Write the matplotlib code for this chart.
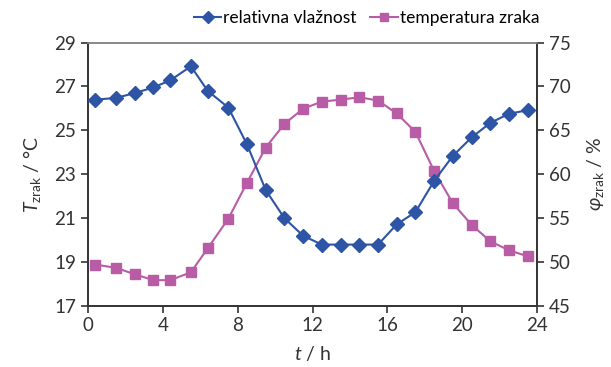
import numpy as np
import matplotlib
matplotlib.use("Agg")
import matplotlib.pyplot as plt

plt.rcParams['font.family'] = ['Lato', 'DejaVu Sans']
plt.rcParams['mathtext.fontset'] = 'custom'
plt.rcParams['mathtext.rm'] = 'Lato'
plt.rcParams['mathtext.it'] = 'Lato:italic'

# hours of measurement
t_h = [0.4, 1.5, 2.5, 3.5, 4.4, 5.5, 6.4, 7.5, 8.5, 9.5, 10.5, 11.5,
       12.5, 13.5, 14.5, 15.5, 16.5, 17.5, 18.5, 19.5, 20.5, 21.5, 22.5, 23.5]

# relative humidity (right axis, %)
phi = [68.5, 68.7, 69.25, 69.9, 70.7, 72.3, 69.5, 67.6, 63.4, 58.2, 55.0, 53.0,
       52.0, 52.0, 52.0, 52.0, 54.3, 55.7, 59.25, 62.1, 64.2, 65.85, 66.9, 67.3]

# air temperature (left axis, degC)
T = [18.89, 18.74, 18.45, 18.18, 18.18, 18.54, 19.63, 20.98, 22.62, 24.22, 25.30, 25.99,
     26.31, 26.40, 26.51, 26.36, 25.77, 24.93, 23.15, 21.68, 20.70, 19.95, 19.54, 19.27]

c_blue = "#2E54A6"
c_mag = "#B95CA6"

fig, ax = plt.subplots(figsize=(6.11, 3.67), dpi=100)
fig.subplots_adjust(left=0.144, right=0.879, top=0.884, bottom=0.166)
ax2 = ax.twinx()

l1, = ax2.plot(t_h, phi, color=c_blue, marker="D", ms=7, lw=1.5,
               label="relativna vlažnost", zorder=3)
l2, = ax.plot(t_h, T, color=c_mag, marker="s", ms=7, lw=1.5,
              label="temperatura zraka", zorder=3)

ax.set_xlim(0, 24)
ax.set_xticks(np.arange(0, 25, 4))
ax.set_ylim(17, 29)
ax.set_yticks(np.arange(17, 30, 2))
ax2.set_ylim(45, 75)
ax2.set_yticks(np.arange(45, 76, 5))

for a in (ax, ax2):
    a.tick_params(labelsize=13.5, colors="#333333", direction="out", length=5, width=1.2)
    for s in a.spines.values():
        s.set_color("#333333")
        s.set_linewidth(1.2)
    a.spines["top"].set_color("#888888")
ax.tick_params(axis="x", pad=3)

ax.set_xlabel("$t$ / h", fontsize=14, color="#333333", labelpad=7)
ax.set_ylabel(r"$T_{\mathrm{zrak}}$ / °C", fontsize=14, color="#333333", labelpad=8)
ax2.set_ylabel(r"$\varphi_{\mathrm{zrak}}$ / %", fontsize=14, color="#333333",
               rotation=90, labelpad=10)

fig.legend(handles=[l1, l2], loc="upper center", bbox_to_anchor=(0.6, 1.015),
           ncol=2, frameon=False, fontsize=12.5, handlelength=1.6,
           handletextpad=0.1, columnspacing=0.8, markerscale=0.9)

fig.savefig("out.png", dpi=100)
